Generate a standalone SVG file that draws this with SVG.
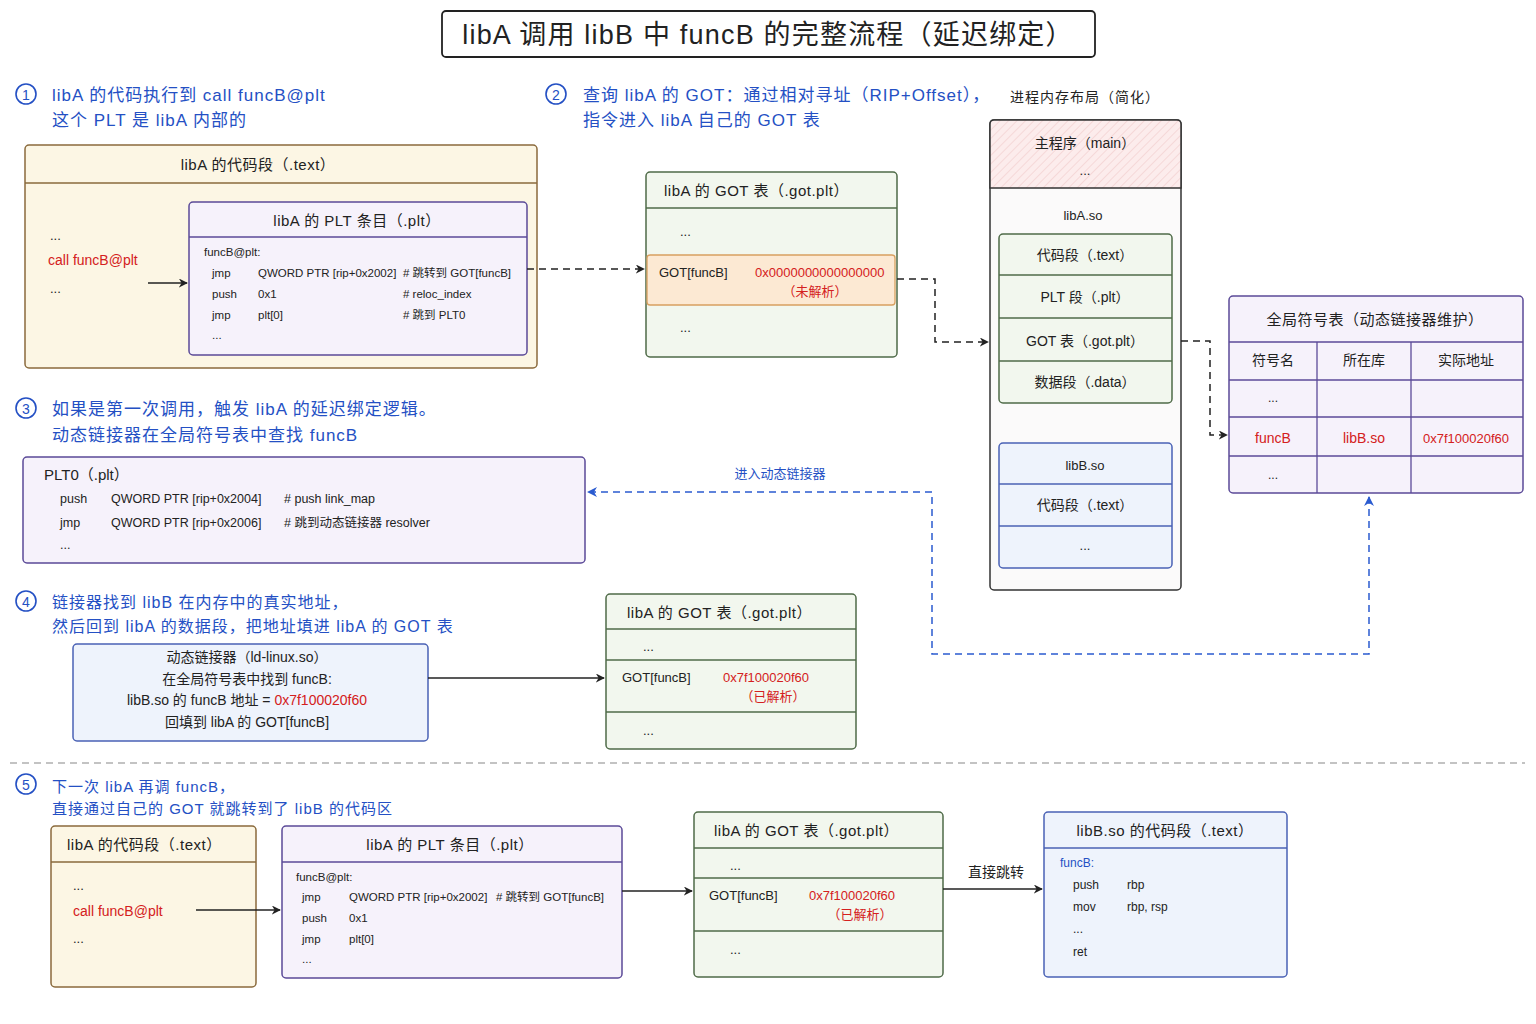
<svg xmlns="http://www.w3.org/2000/svg" width="1536" height="1024" viewBox="0 0 1536 1024">
<defs>
<marker id="ah" viewBox="0 0 10 10" refX="9" refY="5" markerWidth="9" markerHeight="9" orient="auto-start-reverse" markerUnits="userSpaceOnUse"><path d="M0,0 L10,5 L0,10 L3,5 z" fill="#222"/></marker>
<marker id="ahb" viewBox="0 0 10 10" refX="9" refY="5" markerWidth="10" markerHeight="10" orient="auto-start-reverse" markerUnits="userSpaceOnUse"><path d="M0,0 L10,5 L0,10 L3,5 z" fill="#2a5bd0"/></marker>
<pattern id="hatch" width="6" height="6" patternUnits="userSpaceOnUse" patternTransform="rotate(45)"><rect width="6" height="6" fill="#fcecec"/><line x1="0" y1="0" x2="0" y2="6" stroke="#f3d2d2" stroke-width="1.5"/></pattern>
<style>
text{font-family:"Liberation Sans","Noto Sans CJK SC",sans-serif;dominant-baseline:central;fill:#222}
.c{text-anchor:middle}
.blue{fill:#2450c4;font-size:17px;letter-spacing:1px}
.red{fill:#d42020}
.code{font-size:11.5px}
.h{font-size:15px;letter-spacing:0.5px}
.yel{fill:#fcf6e4;stroke:#8a6a3c;stroke-width:1.5}
.pur{fill:#f6f2fb;stroke:#5b4a98;stroke-width:1.5}
.grn{fill:#f2f7ee;stroke:#4f6b48;stroke-width:1.5}
.blu{fill:#eef3fc;stroke:#4a62b5;stroke-width:1.5}
.sep{fill:none;stroke-width:1.3}
.conn{fill:none;stroke:#222;stroke-width:1.5}
.dash{stroke-dasharray:7 5}
.num{fill:none;stroke:#2450c4;stroke-width:1.6}
</style>
</defs>
<rect width="1536" height="1024" fill="#ffffff"/>

<g id="title">
<rect x="442" y="11" width="653" height="46" rx="4" fill="#fff" stroke="#222" stroke-width="1.8"/>
<text x="768" y="35" class="c" style="font-size:27px;letter-spacing:1.2px">libA 调用 libB 中 funcB 的完整流程（延迟绑定）</text>
</g>

<g id="step1">
<circle cx="26" cy="94" r="10" class="num"/><text x="26" y="95" class="c" style="fill:#2450c4;font-size:14px">1</text>
<text x="52" y="95" class="blue">libA 的代码执行到 call funcB@plt</text>
<text x="52" y="120" class="blue">这个 PLT 是 libA 内部的</text>
</g>

<g id="libA_text">
<rect x="25" y="145" width="512" height="223" rx="4" class="yel"/>
<line x1="25" y1="183" x2="537" y2="183" class="sep" stroke="#8a6a3c"/>
<text x="258" y="164" class="c h">libA 的代码段（.text）</text>
<text x="50" y="235" style="font-size:13px">...</text>
<text x="48" y="260" class="red" style="font-size:14px">call funcB@plt</text>
<text x="50" y="288" style="font-size:13px">...</text>
</g>

<g id="libA_plt">
<rect x="189" y="202" width="338" height="153" rx="4" class="pur"/>
<line x1="189" y1="237" x2="527" y2="237" class="sep" stroke="#5b4a98"/>
<text x="357" y="220" class="c h">libA 的 PLT 条目（.plt）</text>
<text x="204" y="252" class="code">funcB@plt:</text>
<text x="212" y="273" class="code">jmp</text><text x="258" y="273" class="code">QWORD PTR [rip+0x2002]</text><text x="403" y="273" class="code"># 跳转到 GOT[funcB]</text>
<text x="212" y="294" class="code">push</text><text x="258" y="294" class="code">0x1</text><text x="403" y="294" class="code"># reloc_index</text>
<text x="212" y="315" class="code">jmp</text><text x="258" y="315" class="code">plt[0]</text><text x="403" y="315" class="code"># 跳到 PLT0</text>
<text x="212" y="335" class="code">...</text>
</g>

<g id="step2">
<circle cx="556" cy="94" r="10" class="num"/><text x="556" y="95" class="c" style="fill:#2450c4;font-size:14px">2</text>
<text x="583" y="95" class="blue">查询 libA 的 GOT：通过相对寻址（RIP+Offset），</text>
<text x="583" y="120" class="blue">指令进入 libA 自己的 GOT 表</text>
</g>

<g id="got1">
<rect x="646" y="172" width="251" height="185" rx="4" class="grn"/>
<line x1="646" y1="208" x2="897" y2="208" class="sep" stroke="#4f6b48"/>
<text x="664" y="190" class="h">libA 的 GOT 表（.got.plt）</text>
<text x="680" y="231" style="font-size:13px">...</text>
<rect x="647" y="255" width="248" height="50" rx="3" fill="#fce9d3" stroke="#d8a060" stroke-width="1.3"/>
<text x="659" y="272" style="font-size:13px">GOT[funcB]</text>
<text x="755" y="272" class="red" style="font-size:13px">0x0000000000000000</text>
<text x="815" y="291" class="c red" style="font-size:13px">（未解析）</text>
<text x="680" y="327" style="font-size:13px">...</text>
</g>

<g id="memory">
<text x="1085" y="97" class="c" style="font-size:14px;letter-spacing:1px">进程内存布局（简化）</text>
<rect x="990" y="120" width="191" height="470" rx="4" fill="#fbfafa" stroke="#333" stroke-width="1.5"/>
<path d="M990,188 V124 Q990,120 994,120 H1177 Q1181,120 1181,124 V188 Z" fill="url(#hatch)" stroke="#333" stroke-width="1.5"/>
<text x="1085" y="143" class="c" style="font-size:14px">主程序（main）</text>
<text x="1085" y="170" class="c" style="font-size:13px">...</text>
<text x="1083" y="215" class="c" style="font-size:13px">libA.so</text>
<rect x="999" y="234" width="173" height="169" rx="4" class="grn"/>
<line x1="999" y1="275" x2="1172" y2="275" class="sep" stroke="#4f6b48"/>
<line x1="999" y1="318" x2="1172" y2="318" class="sep" stroke="#4f6b48"/>
<line x1="999" y1="361" x2="1172" y2="361" class="sep" stroke="#4f6b48"/>
<text x="1085" y="255" class="c" style="font-size:14px">代码段（.text）</text>
<text x="1085" y="297" class="c" style="font-size:14px">PLT 段（.plt）</text>
<text x="1085" y="341" class="c" style="font-size:14px">GOT 表（.got.plt）</text>
<text x="1085" y="382" class="c" style="font-size:14px">数据段（.data）</text>
<rect x="999" y="443" width="173" height="125" rx="4" class="blu"/>
<line x1="999" y1="484" x2="1172" y2="484" class="sep" stroke="#4a62b5"/>
<line x1="999" y1="526" x2="1172" y2="526" class="sep" stroke="#4a62b5"/>
<text x="1085" y="465" class="c" style="font-size:13px">libB.so</text>
<text x="1085" y="505" class="c" style="font-size:14px">代码段（.text）</text>
<text x="1085" y="545" class="c" style="font-size:13px">...</text>
</g>

<g id="symtab">
<rect x="1229" y="296" width="294" height="197" rx="4" class="pur"/>
<line x1="1229" y1="342" x2="1523" y2="342" class="sep" stroke="#5b4a98"/>
<line x1="1229" y1="380" x2="1523" y2="380" class="sep" stroke="#5b4a98"/>
<line x1="1229" y1="417" x2="1523" y2="417" class="sep" stroke="#5b4a98"/>
<line x1="1229" y1="456" x2="1523" y2="456" class="sep" stroke="#5b4a98"/>
<line x1="1317" y1="342" x2="1317" y2="493" class="sep" stroke="#5b4a98"/>
<line x1="1411" y1="342" x2="1411" y2="493" class="sep" stroke="#5b4a98"/>
<text x="1375" y="319" class="c" style="font-size:15px;letter-spacing:0.5px">全局符号表（动态链接器维护）</text>
<text x="1273" y="360" class="c" style="font-size:14px">符号名</text>
<text x="1364" y="360" class="c" style="font-size:14px">所在库</text>
<text x="1466" y="360" class="c" style="font-size:14px">实际地址</text>
<text x="1273" y="398" class="c" style="font-size:12px">...</text>
<text x="1273" y="438" class="c red" style="font-size:14px">funcB</text>
<text x="1364" y="438" class="c red" style="font-size:14px">libB.so</text>
<text x="1466" y="438" class="c red" style="font-size:13px">0x7f100020f60</text>
<text x="1273" y="475" class="c" style="font-size:12px">...</text>
</g>

<g id="step3">
<circle cx="26" cy="408" r="10" class="num"/><text x="26" y="409" class="c" style="fill:#2450c4;font-size:14px">3</text>
<text x="52" y="409" class="blue">如果是第一次调用，触发 libA 的延迟绑定逻辑。</text>
<text x="52" y="435" class="blue">动态链接器在全局符号表中查找 funcB</text>
</g>

<g id="plt0">
<rect x="23" y="457" width="562" height="106" rx="4" class="pur"/>
<text x="44" y="474" style="font-size:15px">PLT0（.plt）</text>
<text x="60" y="499" style="font-size:12.5px">push</text><text x="111" y="499" style="font-size:12.5px">QWORD PTR [rip+0x2004]</text><text x="284" y="499" style="font-size:12.5px"># push link_map</text>
<text x="60" y="523" style="font-size:12.5px">jmp</text><text x="111" y="523" style="font-size:12.5px">QWORD PTR [rip+0x2006]</text><text x="284" y="523" style="font-size:12.5px"># 跳到动态链接器 resolver</text>
<text x="60" y="545" style="font-size:12.5px">...</text>
</g>

<g id="step4">
<circle cx="26" cy="601" r="10" class="num"/><text x="26" y="602" class="c" style="fill:#2450c4;font-size:14px">4</text>
<text x="52" y="602" class="blue" style="font-size:16px">链接器找到 libB 在内存中的真实地址，</text>
<text x="52" y="626" class="blue" style="font-size:16px">然后回到 libA 的数据段，把地址填进 libA 的 GOT 表</text>
</g>

<g id="linker">
<rect x="73" y="644" width="355" height="97" rx="4" class="blu"/>
<text x="247" y="657" class="c" style="font-size:14px">动态链接器（ld-linux.so）</text>
<text x="247" y="679" class="c" style="font-size:14px">在全局符号表中找到 funcB:</text>
<text x="247" y="700" class="c" style="font-size:14px">libB.so 的 funcB 地址 = <tspan class="red">0x7f100020f60</tspan></text>
<text x="247" y="722" class="c" style="font-size:14px">回填到 libA 的 GOT[funcB]</text>
</g>

<g id="got2">
<rect x="606" y="594" width="250" height="155" rx="4" class="grn"/>
<line x1="606" y1="629" x2="856" y2="629" class="sep" stroke="#4f6b48"/>
<line x1="606" y1="660" x2="856" y2="660" class="sep" stroke="#4f6b48"/>
<line x1="606" y1="712" x2="856" y2="712" class="sep" stroke="#4f6b48"/>
<text x="627" y="612" class="h">libA 的 GOT 表（.got.plt）</text>
<text x="643" y="646" style="font-size:13px">...</text>
<text x="622" y="677" style="font-size:13px">GOT[funcB]</text>
<text x="723" y="677" class="red" style="font-size:13px">0x7f100020f60</text>
<text x="773" y="696" class="c red" style="font-size:13px">（已解析）</text>
<text x="643" y="730" style="font-size:13px">...</text>
</g>

<line x1="10" y1="763" x2="1525" y2="763" stroke="#888" stroke-width="1.2" stroke-dasharray="7 5"/>

<g id="step5">
<circle cx="26" cy="784" r="10" class="num"/><text x="26" y="785" class="c" style="fill:#2450c4;font-size:14px">5</text>
<text x="52" y="786" class="blue" style="font-size:15px">下一次 libA 再调 funcB，</text>
<text x="52" y="808" class="blue" style="font-size:15px">直接通过自己的 GOT 就跳转到了 libB 的代码区</text>
</g>

<g id="libA_text2">
<rect x="51" y="826" width="205" height="161" rx="4" class="yel"/>
<line x1="51" y1="862" x2="256" y2="862" class="sep" stroke="#8a6a3c"/>
<text x="67" y="844" class="h">libA 的代码段（.text）</text>
<text x="73" y="885" style="font-size:13px">...</text>
<text x="73" y="911" class="red" style="font-size:14px">call funcB@plt</text>
<text x="73" y="938" style="font-size:13px">...</text>
</g>

<g id="libA_plt2">
<rect x="282" y="826" width="340" height="152" rx="4" class="pur"/>
<line x1="282" y1="862" x2="622" y2="862" class="sep" stroke="#5b4a98"/>
<text x="450" y="844" class="c h">libA 的 PLT 条目（.plt）</text>
<text x="296" y="877" class="code">funcB@plt:</text>
<text x="302" y="897" class="code">jmp</text><text x="349" y="897" class="code">QWORD PTR [rip+0x2002]</text><text x="496" y="897" class="code"># 跳转到 GOT[funcB]</text>
<text x="302" y="918" class="code">push</text><text x="349" y="918" class="code">0x1</text>
<text x="302" y="939" class="code">jmp</text><text x="349" y="939" class="code">plt[0]</text>
<text x="302" y="959" class="code">...</text>
</g>

<g id="got3">
<rect x="694" y="812" width="249" height="165" rx="4" class="grn"/>
<line x1="694" y1="848" x2="943" y2="848" class="sep" stroke="#4f6b48"/>
<line x1="694" y1="878" x2="943" y2="878" class="sep" stroke="#4f6b48"/>
<line x1="694" y1="931" x2="943" y2="931" class="sep" stroke="#4f6b48"/>
<text x="714" y="830" class="h">libA 的 GOT 表（.got.plt）</text>
<text x="730" y="865" style="font-size:13px">...</text>
<text x="709" y="895" style="font-size:13px">GOT[funcB]</text>
<text x="809" y="895" class="red" style="font-size:13px">0x7f100020f60</text>
<text x="860" y="914" class="c red" style="font-size:13px">（已解析）</text>
<text x="730" y="949" style="font-size:13px">...</text>
</g>

<g id="libB_text">
<rect x="1044" y="812" width="243" height="165" rx="4" class="blu"/>
<line x1="1044" y1="848" x2="1287" y2="848" class="sep" stroke="#4a62b5"/>
<text x="1165" y="830" class="c h">libB.so 的代码段（.text）</text>
<text x="1060" y="863" style="font-size:12px;fill:#2450c4">funcB:</text>
<text x="1073" y="885" style="font-size:12px">push</text><text x="1127" y="885" style="font-size:12px">rbp</text>
<text x="1073" y="907" style="font-size:12px">mov</text><text x="1127" y="907" style="font-size:12px">rbp, rsp</text>
<text x="1073" y="929" style="font-size:12px">...</text>
<text x="1073" y="952" style="font-size:12px">ret</text>
</g>

<g id="connectors">
<line x1="148" y1="283" x2="187" y2="283" class="conn" marker-end="url(#ah)"/>
<line x1="527" y1="269" x2="644" y2="269" class="conn dash" marker-end="url(#ah)"/>
<polyline points="897,279 935,279 935,342 988,342" class="conn dash" marker-end="url(#ah)"/>
<polyline points="1181,341 1210,341 1210,435 1227,435" class="conn dash" marker-end="url(#ah)"/>
<polyline points="1369,497 1369,654 932,654 932,492 588,492" fill="none" stroke="#2a5bd0" stroke-width="1.5" stroke-dasharray="7 5" marker-start="url(#ahb)" marker-end="url(#ahb)"/>
<text x="780" y="473" class="c" style="fill:#2450c4;font-size:13px">进入动态链接器</text>
<line x1="428" y1="678" x2="604" y2="678" class="conn" marker-end="url(#ah)"/>
<line x1="196" y1="910" x2="280" y2="910" class="conn" marker-end="url(#ah)"/>
<line x1="622" y1="891" x2="692" y2="891" class="conn" marker-end="url(#ah)"/>
<line x1="943" y1="889" x2="1042" y2="889" class="conn" marker-end="url(#ah)"/>
<text x="996" y="872" class="c" style="font-size:14px">直接跳转</text>
</g>
</svg>
